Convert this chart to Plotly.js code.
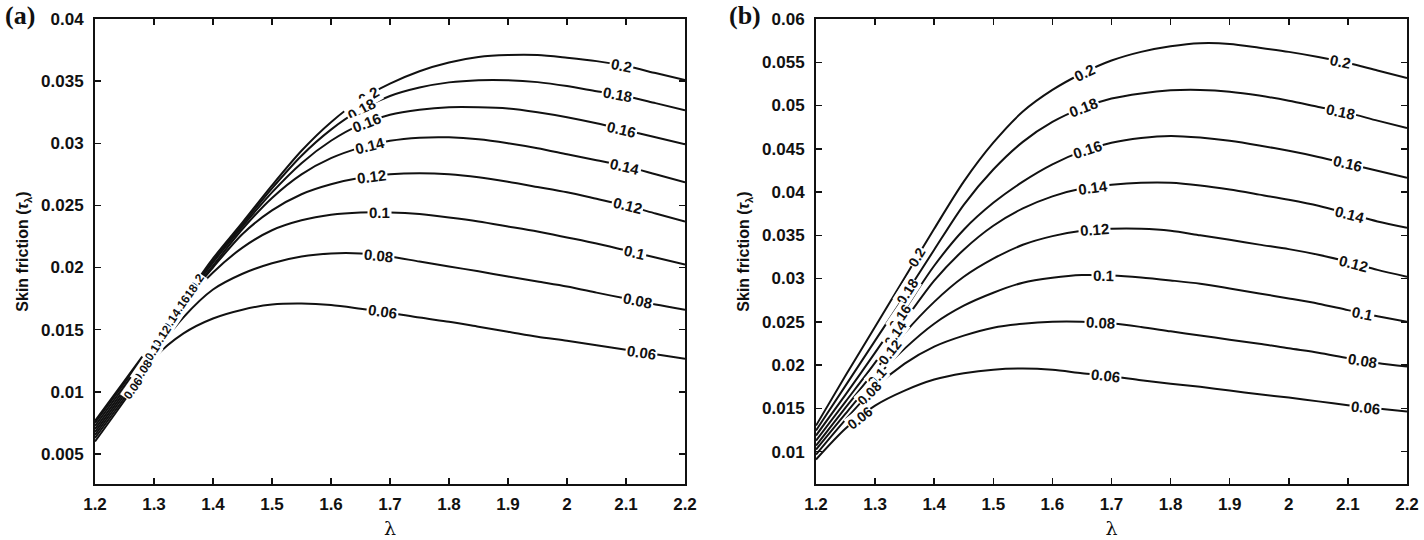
<!DOCTYPE html>
<html>
<head>
<meta charset="utf-8">
<script src="https://cdn.plot.ly/plotly-3.0.1.min.js"></script>
<style>html,body{margin:0;padding:0;background:#fff;}#chart{width:1424px;height:540px;}</style>
</head>
<body>
<div id="chart"></div>
<script>
// ---------- data ----------
const lambda = [1.2, 1.25, 1.3, 1.35, 1.4, 1.45, 1.5, 1.55, 1.6, 1.65, 1.7, 1.75, 1.8, 1.85, 1.9, 1.95, 2.0, 2.05, 2.1, 2.15, 2.2];
const levels = ['0.06', '0.08', '0.1', '0.12', '0.14', '0.16', '0.18', '0.2'];

// panel (a)
const tauA_006 = [0.00600, 0.00930, 0.01270, 0.01470, 0.01590, 0.01661, 0.01702, 0.01710, 0.01698, 0.01669, 0.01637, 0.01597, 0.01564, 0.01524, 0.01484, 0.01443, 0.01411, 0.01375, 0.01339, 0.01302, 0.01266];
const tauA_008 = [0.00629, 0.00952, 0.01300, 0.01600, 0.01823, 0.01950, 0.02035, 0.02089, 0.02113, 0.02113, 0.02089, 0.02048, 0.02008, 0.01970, 0.01927, 0.01887, 0.01847, 0.01798, 0.01750, 0.01702, 0.01661];
const tauA_010 = [0.00653, 0.00976, 0.01331, 0.01700, 0.01960, 0.02160, 0.02300, 0.02380, 0.02425, 0.02443, 0.02443, 0.02430, 0.02403, 0.02371, 0.02331, 0.02290, 0.02242, 0.02193, 0.02137, 0.02081, 0.02024];
const tauA_012 = [0.00677, 0.01000, 0.01347, 0.01710, 0.02000, 0.02270, 0.02460, 0.02590, 0.02670, 0.02722, 0.02750, 0.02758, 0.02750, 0.02726, 0.02690, 0.02648, 0.02605, 0.02553, 0.02500, 0.02435, 0.02371];
const tauA_014 = [0.00701, 0.01024, 0.01363, 0.01720, 0.02016, 0.02310, 0.02560, 0.02750, 0.02880, 0.02965, 0.03020, 0.03045, 0.03048, 0.03032, 0.03000, 0.02960, 0.02911, 0.02863, 0.02814, 0.02750, 0.02685];
const tauA_016 = [0.00726, 0.01048, 0.01379, 0.01725, 0.02040, 0.02331, 0.02605, 0.02840, 0.03020, 0.03150, 0.03230, 0.03270, 0.03290, 0.03290, 0.03280, 0.03250, 0.03210, 0.03161, 0.03105, 0.03048, 0.02992];
const tauA_018 = [0.00750, 0.01072, 0.01395, 0.01730, 0.02056, 0.02347, 0.02637, 0.02900, 0.03110, 0.03270, 0.03380, 0.03448, 0.03490, 0.03508, 0.03508, 0.03492, 0.03460, 0.03419, 0.03379, 0.03323, 0.03266];
const tauA_020 = [0.00766, 0.01089, 0.01411, 0.01738, 0.02073, 0.02363, 0.02661, 0.02940, 0.03170, 0.03350, 0.03480, 0.03580, 0.03650, 0.03694, 0.03710, 0.03710, 0.03688, 0.03661, 0.03621, 0.03565, 0.03508];

// panel (b)
const tauB_006 = [0.00908, 0.01266, 0.01531, 0.01704, 0.01832, 0.01905, 0.01947, 0.01960, 0.01945, 0.01905, 0.01870, 0.01825, 0.01785, 0.01748, 0.01706, 0.01662, 0.01624, 0.01580, 0.01535, 0.01497, 0.01462];
const tauB_008 = [0.00966, 0.01370, 0.01739, 0.02016, 0.02213, 0.02340, 0.02432, 0.02478, 0.02501, 0.02501, 0.02482, 0.02440, 0.02390, 0.02342, 0.02293, 0.02247, 0.02193, 0.02143, 0.02080, 0.02024, 0.01982];
const tauB_010 = [0.01023, 0.01439, 0.01843, 0.02190, 0.02478, 0.02686, 0.02836, 0.02952, 0.03009, 0.03040, 0.03035, 0.03012, 0.02978, 0.02940, 0.02885, 0.02828, 0.02770, 0.02709, 0.02635, 0.02565, 0.02501];
const tauB_012 = [0.01069, 0.01508, 0.01935, 0.02370, 0.02730, 0.03020, 0.03230, 0.03390, 0.03490, 0.03552, 0.03575, 0.03575, 0.03552, 0.03500, 0.03448, 0.03392, 0.03340, 0.03275, 0.03194, 0.03100, 0.03021];
const tauB_014 = [0.01127, 0.01577, 0.02028, 0.02513, 0.02975, 0.03333, 0.03610, 0.03810, 0.03950, 0.04040, 0.04083, 0.04106, 0.04106, 0.04075, 0.04028, 0.03970, 0.03910, 0.03841, 0.03752, 0.03660, 0.03587];
const tauB_016 = [0.01185, 0.01658, 0.02143, 0.02640, 0.03148, 0.03564, 0.03875, 0.04120, 0.04320, 0.04470, 0.04570, 0.04625, 0.04649, 0.04630, 0.04592, 0.04538, 0.04476, 0.04406, 0.04326, 0.04245, 0.04164];
const tauB_018 = [0.01243, 0.01762, 0.02282, 0.02801, 0.03333, 0.03852, 0.04260, 0.04580, 0.04810, 0.04970, 0.05080, 0.05140, 0.05175, 0.05180, 0.05160, 0.05115, 0.05055, 0.04984, 0.04915, 0.04825, 0.04741];
const tauB_020 = [0.01300, 0.01878, 0.02443, 0.03009, 0.03575, 0.04120, 0.04570, 0.04930, 0.05180, 0.05370, 0.05520, 0.05620, 0.05685, 0.05720, 0.05712, 0.05668, 0.05620, 0.05561, 0.05492, 0.05405, 0.05319];

// ticks
const xTickVals = [1.2, 1.3, 1.4, 1.5, 1.6, 1.7, 1.8, 1.9, 2.0, 2.1, 2.2];
const xTickText = ['1.2', '1.3', '1.4', '1.5', '1.6', '1.7', '1.8', '1.9', '2', '2.1', '2.2'];
const yTickValsA = [0.005, 0.01, 0.015, 0.02, 0.025, 0.03, 0.035, 0.04];
const yTickTextA = ['0.005', '0.01', '0.015', '0.02', '0.025', '0.03', '0.035', '0.04'];
const yTickValsB = [0.01, 0.015, 0.02, 0.025, 0.03, 0.035, 0.04, 0.045, 0.05, 0.055, 0.06];
const yTickTextB = ['0.01', '0.015', '0.02', '0.025', '0.03', '0.035', '0.04', '0.045', '0.05', '0.055', '0.06'];

const seriesA = [tauA_006, tauA_008, tauA_010, tauA_012, tauA_014, tauA_016, tauA_018, tauA_020];
const seriesB = [tauB_006, tauB_008, tauB_010, tauB_012, tauB_014, tauB_016, tauB_018, tauB_020];

// contour-label positions along lambda (one per level: left cluster, middle, right)
const labelPosA = [
  [1.265, 1.688, 2.127], [1.282, 1.680, 2.119], [1.298, 1.683, 2.115], [1.314, 1.669, 2.103],
  [1.330, 1.666, 2.098], [1.345, 1.661, 2.093], [1.358, 1.651, 2.086], [1.372, 1.664, 2.093]
];
const labelPosB = [
  [1.274, 1.689, 2.129], [1.291, 1.681, 2.124], [1.303, 1.686, 2.124], [1.325, 1.672, 2.109],
  [1.334, 1.669, 2.104], [1.342, 1.659, 2.100], [1.354, 1.652, 2.087], [1.371, 1.655, 2.087]
];

// ---------- layout geometry ----------
const W = 1424, H = 540;
const M = {l: 95, r: 17, t: 19, b: 56};
const plotW = W - M.l - M.r, plotH = H - M.t - M.b;
const domA = [0, 590 / plotW];
const domB = [721 / plotW, 1];
const xRange = [1.2, 2.2];
const yRangeA = [0.00258, 0.04];
const yRangeB = [0.00625, 0.06];

const FONT = 'Liberation Sans, Arial, Helvetica, sans-serif';
const lineStyle = {color: '#111', width: 2, shape: 'spline', smoothing: 0.8};

function interp(xs, ys, x) {
  if (x <= xs[0]) return ys[0];
  for (let i = 1; i < xs.length; i++) {
    if (x <= xs[i]) {
      const t = (x - xs[i - 1]) / (xs[i] - xs[i - 1]);
      return ys[i - 1] + t * (ys[i] - ys[i - 1]);
    }
  }
  return ys[ys.length - 1];
}

const traces = [];
const annotations = [];

function addPanel(series, posList, xa, ya, dom, yRange, clusterSize) {
  const xPx = (dom[1] - dom[0]) * plotW / (xRange[1] - xRange[0]);
  const yPx = plotH / (yRange[1] - yRange[0]);
  series.forEach((ys, k) => {
    traces.push({
      x: lambda, y: ys, type: 'scatter', mode: 'lines', name: levels[k],
      xaxis: xa, yaxis: ya, line: lineStyle, showlegend: false, hoverinfo: 'skip'
    });
  });
  // labels: higher levels first so lower-level labels are drawn on top
  for (let k = series.length - 1; k >= 0; k--) {
    const ys = series[k];
    posList[k].forEach((lx, j) => {
      const ly = interp(lambda, ys, lx);
      const d = 0.02;
      const slope = (interp(lambda, ys, lx + d) - interp(lambda, ys, lx - d)) / (2 * d);
      const ang = -Math.atan(slope * yPx / xPx) * 180 / Math.PI;
      annotations.push({
        x: lx, y: ly, xref: xa, yref: ya, text: levels[k], showarrow: false,
        xanchor: 'center', yanchor: 'middle',
        textangle: ang, bgcolor: '#ffffff', borderpad: j === 0 ? 0 : 1,
        font: {family: FONT, size: j === 0 ? clusterSize : 15, color: '#111', weight: 'bold'}
      });
    });
  }
}
addPanel(seriesA, labelPosA, 'x', 'y', domA, yRangeA, 12);
addPanel(seriesB, labelPosB, 'x2', 'y2', domB, yRangeB, 14);

const letterFont = {family: 'Liberation Serif, Times New Roman, serif', size: 26, color: '#111', weight: 'bold'};
annotations.push({text: '(a)', xref: 'paper', yref: 'paper', showarrow: false,
  xanchor: 'center', yanchor: 'middle',
  x: (20 - M.l) / plotW, y: (H - M.b - 15) / plotH, font: letterFont});
annotations.push({text: '(b)', xref: 'paper', yref: 'paper', showarrow: false,
  xanchor: 'center', yanchor: 'middle',
  x: (745 - M.l) / plotW, y: (H - M.b - 15) / plotH, font: letterFont});

const tickFont = {family: FONT, size: 17, color: '#111', weight: 'bold'};
function xAxis(dom, anchor) {
  return {
    domain: dom, anchor: anchor, range: xRange, tickvals: xTickVals, ticktext: xTickText,
    ticks: 'inside', ticklen: 6, tickwidth: 1.5, tickcolor: '#111',
    showline: true, linecolor: '#111', linewidth: 2, mirror: 'ticks',
    showgrid: false, zeroline: false, tickfont: tickFont, ticklabelstandoff: 4,
    title: {text: 'λ', font: {family: 'DejaVu Serif, serif', size: 19, color: '#111'}, standoff: 8}
  };
}
function yAxis(range, vals, text, anchor) {
  return {
    domain: [0, 1], anchor: anchor, range: range, tickvals: vals, ticktext: text,
    ticks: 'inside', ticklen: 6, tickwidth: 1.5, tickcolor: '#111',
    showline: true, linecolor: '#111', linewidth: 2, mirror: 'ticks',
    showgrid: false, zeroline: false, tickfont: tickFont, ticklabelstandoff: 6,
    title: {text: 'Skin friction (<i>τ</i><sub>λ</sub>)', font: {family: FONT, size: 16, color: '#111', weight: 'bold'}, standoff: 8}
  };
}

const layout = {
  width: W, height: H,
  margin: M,
  paper_bgcolor: '#fff', plot_bgcolor: '#fff',
  showlegend: false,
  xaxis: xAxis(domA, 'y'),
  yaxis: yAxis(yRangeA, yTickValsA, yTickTextA, 'x'),
  xaxis2: xAxis(domB, 'y2'),
  yaxis2: yAxis(yRangeB, yTickValsB, yTickTextB, 'x2'),
  annotations: annotations
};

Plotly.newPlot('chart', traces, layout, {displayModeBar: false, staticPlot: true});
</script>
</body>
</html>
